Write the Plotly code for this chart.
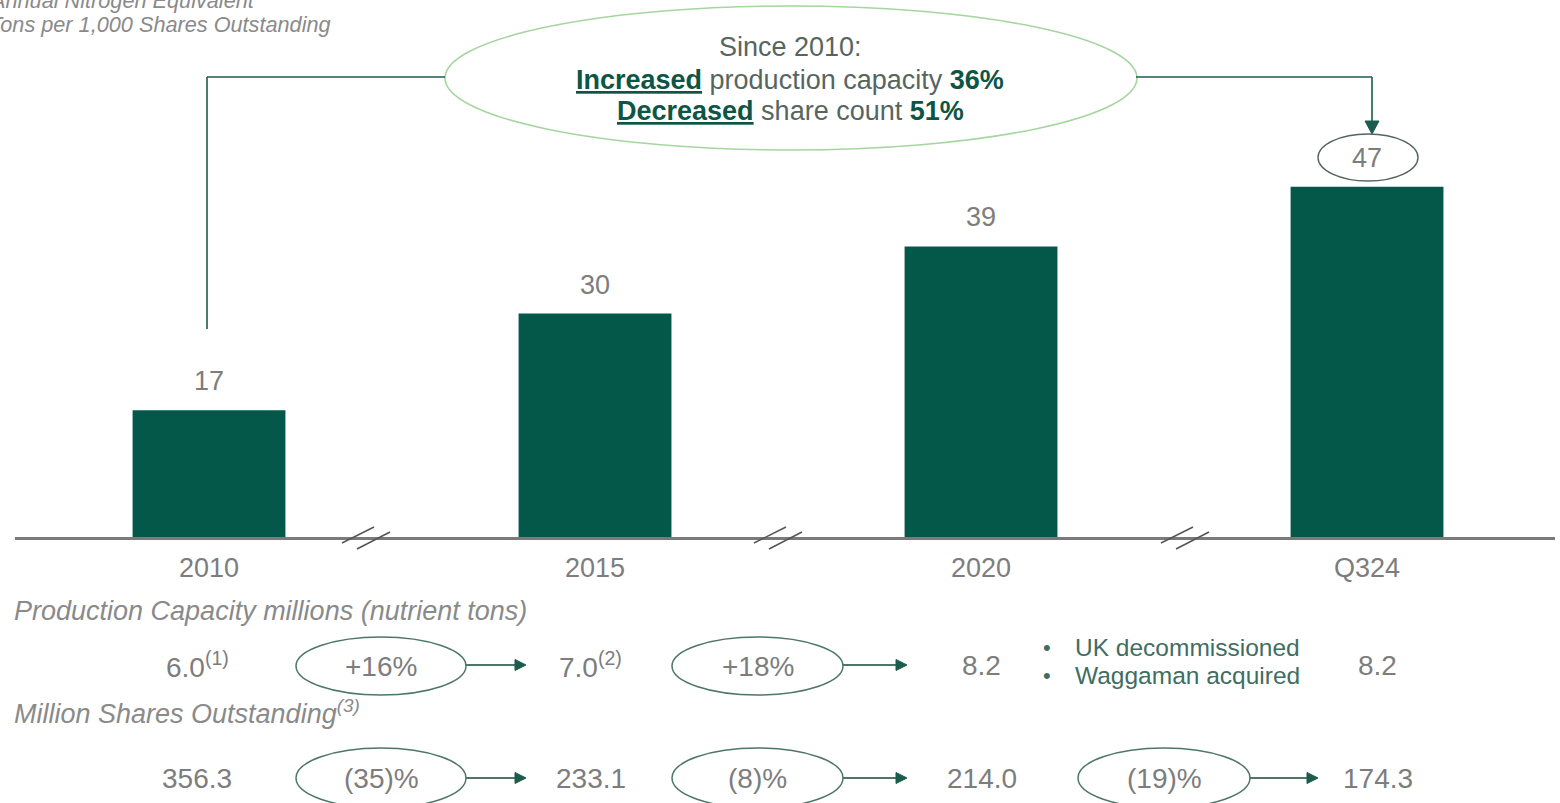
import plotly.graph_objects as go

W, H = 1560, 803

# ---------------- data ----------------
categories = ["2010", "2015", "2020", "Q324"]
tons_per_1000_shares = [17, 30, 39, 47]
capacity_values = ["6.0", "7.0", "8.2", "8.2"]
capacity_notes = ["(1)", "(2)", "", ""]
capacity_changes = ["+16%", "+18%"]
capacity_events = ["UK decommissioned", "Waggaman acquired"]
shares_outstanding = [356.3, 233.1, 214.0, 174.3]
share_changes = ["(35)%", "(8)%", "(19)%"]
title_lines = ["Annual Nitrogen Equivalent", "Tons per 1,000 Shares Outstanding"]
callout_title = "Since 2010:"
callout_capacity_pct = "36%"
callout_shares_pct = "51%"

# ---------------- style ----------------
FONT = "Liberation Sans, Arial, sans-serif"
BAR = "#03584a"
GREY = "#7d7d7d"
LABEL_GREY = "#8a8a8a"
DKGREEN = "#1b5c4c"
BOLDGREEN = "#0d5544"
CALLTEXT = "#56665f"
OVAL = "#4d7669"
LIGHTOVAL = "#a6d6a0"
EVENT = "#3f6d62"


def X(p):
    return p / W


def Y(p):
    return 1 - p / H


fig = go.Figure()
fig.add_trace(go.Bar(
    x=categories, y=tons_per_1000_shares, width=0.396,
    marker=dict(color=BAR, line=dict(width=0)),
    hoverinfo="skip", showlegend=False,
))

shapes = []
annotations = []


def text(px, py, s, size=27, color=GREY, xanchor="center", italic=False, family=FONT):
    annotations.append(dict(
        x=X(px), y=Y(py), xref="paper", yref="paper", text=s, showarrow=False,
        xanchor=xanchor, yanchor="middle",
        font=dict(family=family, size=size, color=color,
                  style="italic" if italic else "normal"),
    ))


def ellipse(x0, x1, y0, y1, color=OVAL, width=1.5):
    shapes.append(dict(type="circle", xref="paper", yref="paper",
                       x0=X(x0), x1=X(x1), y0=Y(y1), y1=Y(y0),
                       line=dict(color=color, width=width), layer="above"))


def seg(x0, y0, x1, y1, color=DKGREEN, width=1.6):
    shapes.append(dict(type="line", xref="paper", yref="paper",
                       x0=X(x0), y0=Y(y0), x1=X(x1), y1=Y(y1),
                       line=dict(color=color, width=width), layer="above"))


def tri_right(xt, y, L=11, h=5.5, color=DKGREEN):
    shapes.append(dict(type="path", xref="paper", yref="paper",
                       path=f"M {X(xt-L)},{Y(y-h)} L {X(xt)},{Y(y)} L {X(xt-L)},{Y(y+h)} Z",
                       fillcolor=color, line=dict(color=color, width=1), layer="above"))


def arrow_right(x0, x1, y):
    seg(x0, y, x1 - 9, y, color=OVAL, width=1.8)
    tri_right(x1, y, color=DKGREEN)


# ---- top-left (cropped, as in the source slide) title ----
text(-13, 0, title_lines[0], size=21.7, color=LABEL_GREY, xanchor="left", italic=True)
text(-13, 24, title_lines[1], size=21.7, color=LABEL_GREY, xanchor="left", italic=True)

# ---- callout ellipse ----
ellipse(445, 1137, 6, 150, color=LIGHTOVAL, width=1.6)
text(790, 47, callout_title, size=27, color=CALLTEXT)
text(790, 80, (f"<span style='color:{BOLDGREEN}'><b><u>Increased</u></b></span>"
               f" production capacity "
               f"<span style='color:{BOLDGREEN}'><b>{callout_capacity_pct}</b></span>"),
     size=27, color=CALLTEXT)
text(790, 111, (f"<span style='color:{BOLDGREEN}'><b><u>Decreased</u></b></span>"
                f" share count "
                f"<span style='color:{BOLDGREEN}'><b>{callout_shares_pct}</b></span>"),
     size=27, color=CALLTEXT)

# connectors
seg(207, 329, 207, 77)
seg(207, 77, 445, 77)
seg(1136, 77, 1372, 77)
seg(1372, 77, 1372, 124)
shapes.append(dict(type="path", xref="paper", yref="paper",
                   path=f"M {X(1365)},{Y(121)} L {X(1379)},{Y(121)} L {X(1372)},{Y(134)} Z",
                   fillcolor=DKGREEN, line=dict(color=DKGREEN, width=1), layer="above"))

# ---- bar value labels (category index positions) ----
for i, v in enumerate(tons_per_1000_shares):
    annotations.append(dict(x=i, y=v, xref="x", yref="y", text=str(v), showarrow=False,
                            yshift=29, font=dict(family=FONT, size=27, color=GREY)))
# oval round the latest value
ellipse(1318, 1418, 134, 181, color="#55655f", width=1.4)

# ---- axis break marks ----
for cx in [366, 778, 1185]:
    seg(cx - 24, 543, cx + 8, 527, color="#555555", width=1.5)
    seg(cx - 9, 549, cx + 24, 532, color="#555555", width=1.5)

# ---- lower table ----
text(12, 611, "Production Capacity millions (nutrient tons)", size=27,
     color=LABEL_GREY, xanchor="left", italic=True)
text(12, 712, "Million Shares Outstanding<sup>(3)</sup>", size=27,
     color=LABEL_GREY, xanchor="left", italic=True)

row1_y, row2_y = 665, 778
row1_x = [197, 590, 981, 1377]
row2_x = [197, 591, 982, 1378]
change_ovals = [(296, 466), (672, 843), (1078, 1250)]
arrow_ends = [526, 907, 1318]

for i, (val, note) in enumerate(zip(capacity_values, capacity_notes)):
    s = val + (f"<sup>{note}</sup>" if note else "")
    text(row1_x[i], row1_y, s, size=28)
for i, ch in enumerate(capacity_changes):
    x0, x1 = change_ovals[i]
    ellipse(x0, x1, 637, 695)
    text((x0 + x1) / 2, row1_y + 1, ch, size=28)
    arrow_right(x1, arrow_ends[i], row1_y)

text(1047, 647, "•", size=22, color=EVENT)
text(1047, 675, "•", size=22, color=EVENT)
text(1073, 647, capacity_events[0], size=24.5, color=EVENT, xanchor="left")
text(1073, 675, capacity_events[1], size=24.5, color=EVENT, xanchor="left")

for i, v in enumerate(shares_outstanding):
    text(row2_x[i], row2_y, f"{v:.1f}", size=28)
for i, ch in enumerate(share_changes):
    x0, x1 = change_ovals[i]
    ellipse(x0, x1, 748, 808)
    text((x0 + x1) / 2, row2_y, ch, size=28)
    arrow_right(x1, arrow_ends[i], row2_y)

fig.update_layout(
    width=W, height=H,
    margin=dict(l=0, r=0, t=0, b=0),
    paper_bgcolor="white", plot_bgcolor="white",
    showlegend=False,
    xaxis=dict(
        type="category", categoryorder="array", categoryarray=categories,
        range=[-0.5026, 3.487], domain=[X(15), X(1555)],
        showline=True, linecolor="#7a7a7a", linewidth=2.5,
        ticks="", showgrid=False, zeroline=False, ticklabelstandoff=5,
        tickfont=dict(family=FONT, size=27, color=GREY), fixedrange=True,
    ),
    yaxis=dict(
        range=[0, 537 / 7.45], domain=[1 - 537 / H, 1], visible=False,
        showgrid=False, zeroline=False, fixedrange=True,
    ),
    shapes=shapes,
    annotations=annotations,
)

fig.write_html(
    "out.html",
    config={"displayModeBar": False},
    post_script="document.body.style.margin='0';document.body.style.overflow='hidden';",
)
